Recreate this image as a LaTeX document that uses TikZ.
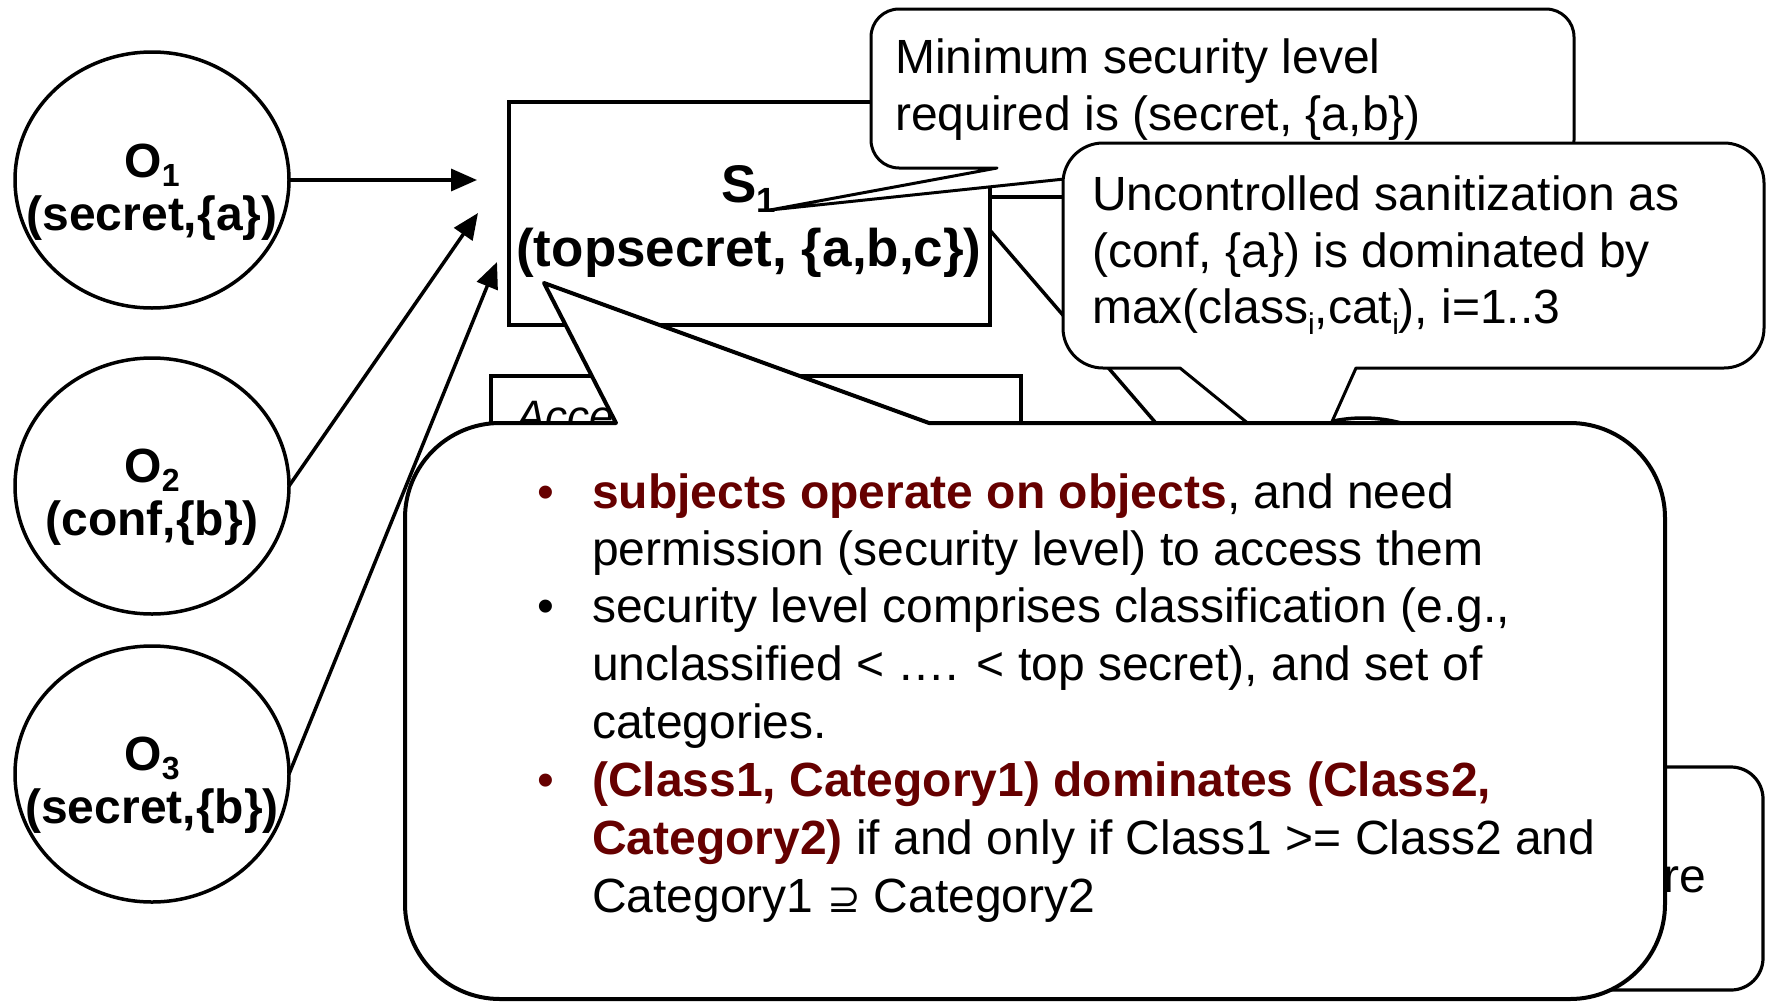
\documentclass[tikz,border=0pt]{standalone}
\usepackage{fontspec}
\setmainfont{Liberation Sans}
\newfontfamily\dvsym{DejaVu Sans}
\usetikzlibrary{shapes.geometric,arrows.meta}
\definecolor{dred}{RGB}{102,0,0}

% lowered index: size, drop, text
\newcommand{\lowidx}[3]{\raisebox{-#2pt}{\fontsize{#1}{#1}\selectfont #3}}

\tikzset{
  objshape/.style={draw, ellipse, line width=3.5pt, minimum width=274pt, minimum height=256pt, inner sep=0pt, outer sep=0pt},
  olabel/.style={inner sep=0pt, anchor=base, font=\fontsize{48}{54}\selectfont\bfseries},
  slabel/.style={inner sep=0pt, anchor=base, font=\fontsize{53}{60}\selectfont\bfseries},
  txt/.style={inner sep=0pt, anchor=base west, font=\fontsize{48}{56}\selectfont},
  feed/.style={line width=3.5pt, -{Triangle[length=26pt,width=22pt]}},
  wire/.style={line width=3.5pt},
  balloon/.style={draw, fill=white, line width=3pt, line join=round},
  bigballoon/.style={draw, fill=white, line width=4pt, line join=round},
  boxed/.style={draw, fill=white, line width=4pt, inner sep=0pt, outer sep=0pt},
}

\begin{document}
\begin{tikzpicture}[x=1pt,y=-1pt]
\useasboundingbox[fill=white] (0,0) rectangle (1766,1001);

% objects and subject
\node[objshape] (O1) at (152,180) {};
\node[objshape] (O2) at (152,486) {};
\node[objshape] (O3) at (152,774) {};
\node[objshape] (O4) at (1363,546) {};

\node[boxed, minimum width=530pt, minimum height=160pt, anchor=north west] (acc) at (491,376) {};
\node[inner sep=0pt, anchor=base west, font=\fontsize{44}{50}\selectfont\itshape] (acct) at (516,431) {Acce};

\node[boxed, minimum width=481pt, minimum height=223pt] (S1) at (749.5,213.5) {};

% connectors leaving the subject
\coordinate (h1) at (1160,197);
\draw[wire] (S1.east |- h1) -- (h1);
\draw[wire] (S1.-4) -- (O4.165);

\node[slabel] (S1a) at (749,202) {S\lowidx{35}{10}{1}};
\node[slabel] (S1b) at (749,266) {(topsecret, \{a,b,c\})};

\node[olabel] (O1a) at (152,177) {O\lowidx{32}{9}{1}};
\node[olabel] (O1b) at (152,230) {(secret,\{a\})};
\node[olabel] (O2a) at (152,482) {O\lowidx{32}{9}{2}};
\node[olabel] (O2b) at (152,535) {(conf,\{b\})};
\node[olabel] (O3a) at (152,770) {O\lowidx{32}{9}{3}};
\node[olabel] (O3b) at (152,823) {(secret,\{b\})};

% callout: minimum level
\coordinate (tipA) at (770,210);
\draw[balloon] (997,168) -- (tipA) -- (1169,168) -- (1546,168)
  arc[start angle=90,end angle=0,radius=28] -- (1574,37)
  arc[start angle=0,end angle=-90,radius=28] -- (899,9)
  arc[start angle=270,end angle=180,radius=28] -- (871,140)
  arc[start angle=180,end angle=90,radius=28] -- cycle;
\node[txt] (c1a) at (895,73) {Minimum security level};
\node[txt] (c1b) at (895,130) {required is (secret, \{a,b\})};

% callout: sanitization
\coordinate (tipB) at (1309,473);
\draw[balloon] (1180,368) -- (tipB) -- (1356,368) -- (1724,368)
  arc[start angle=90,end angle=0,radius=40] -- (1764,183)
  arc[start angle=0,end angle=-90,radius=40] -- (1103,143)
  arc[start angle=270,end angle=180,radius=40] -- (1063,328)
  arc[start angle=180,end angle=90,radius=40] -- cycle;
\node[txt] (c2a) at (1092,210) {Uncontrolled sanitization as};
\node[txt] (c2b) at (1092,267) {(conf, \{a\}) is dominated by};
\node[txt] (c2c) at (1092,323) {max(class\lowidx{30}{11}{i},cat\lowidx{30}{11}{i}), i=1..3};

% callout at the lower right
\draw[balloon, line width=3.2pt, rounded corners=32pt] (1300,767) rectangle (1763,990);
\node[txt] (c3t) at (1663,892) {re};

% main callout
\coordinate (tipC) at (544,283);
\draw[bigballoon] (616,423) -- (tipC) -- (929,423) -- (1570,423)
  arc[start angle=270,end angle=360,radius=95] -- (1665,904)
  arc[start angle=0,end angle=90,radius=95] -- (500,999)
  arc[start angle=90,end angle=180,radius=95] -- (405,518)
  arc[start angle=180,end angle=270,radius=95] -- cycle;

\node[txt, text=dred] (u1) at (537,508) {•};
\node[txt] (u2) at (537,622) {•};
\node[txt, text=dred] (u3) at (537,796) {•};

\node[txt] (m1) at (592,508) {{\bfseries\color{dred}subjects operate on objects}, and need};
\node[txt] (m2) at (592,565) {permission (security level) to access them};
\node[txt] (m3) at (592,622) {security level comprises classification (e.g.,};
\node[txt] (m4) at (592,680) {unclassified < …. < top secret), and set of};
\node[txt] (m5) at (592,738) {categories.};
\node[txt] (m6) at (592,796) {{\bfseries\color{dred}(Class1, Category1) dominates (Class2,}};
\node[txt] (m7) at (592,854) {{\bfseries\color{dred}Category2)} if and only if Class1 >= Class2 and};
\node[txt] (m8) at (592,912) {Category1 {\dvsym\fontsize{40}{40}\selectfont ⊇} Category2};

% arrows from objects to the subject
\coordinate (in1) at (477,180);
\coordinate (in2) at (478,213);
\coordinate (in3) at (497,262);
\draw[feed] (O1.east) -- (in1);
\draw[feed] (O2.east) -- (in2);
\draw[feed] (O3.east) -- (in3);
\end{tikzpicture}
\end{document}
